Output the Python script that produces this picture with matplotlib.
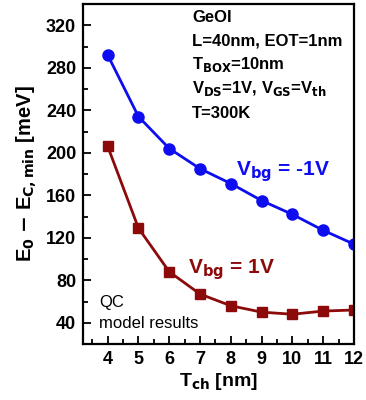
import matplotlib.pyplot as plt
from matplotlib.ticker import MultipleLocator

plt.rcParams['font.family'] = ['Liberation Sans', 'DejaVu Sans']
plt.rcParams['font.weight'] = 'bold'
plt.rcParams['mathtext.default'] = 'bf'

# data
t_ch = [4, 5, 6, 7, 8, 9, 10, 11, 12]
e_vbg_m1 = [292, 234, 204, 185, 171, 155, 142, 127, 114]
e_vbg_p1 = [206, 129, 88, 67, 56, 50, 48, 51, 52]

blue = '#0d0df0'
red = '#8c0a0a'

fig = plt.figure(figsize=(3.66, 4.0), dpi=100)
ax = fig.add_axes([0.227, 0.14, 0.74, 0.85])

ax.plot(t_ch, e_vbg_m1, '-o', color=blue, lw=2, ms=8)
ax.plot(t_ch, e_vbg_p1, '-s', color=red, lw=2, ms=6.5)

ax.set_xlim(3.2, 12)
ax.set_ylim(20, 340)
ax.xaxis.set_major_locator(MultipleLocator(1))
ax.xaxis.set_minor_locator(MultipleLocator(0.5))
ax.yaxis.set_major_locator(MultipleLocator(40))
ax.yaxis.set_minor_locator(MultipleLocator(20))
ax.tick_params(which='both', direction='in', width=1.3, labelsize=13)
ax.tick_params(which='major', length=6, pad=5)
ax.tick_params(which='minor', length=3.5)
for s in ax.spines.values():
    s.set_linewidth(1.6)

ax.set_xlabel(r'T$_{\mathbf{ch}}$ [nm]', fontsize=14, fontweight='bold', labelpad=2)
ax.set_ylabel(r'E$_{\mathbf{0}}$ $-$ E$_{\mathbf{C,min}}$ [meV]', fontsize=14.5, fontweight='bold', labelpad=5)

info = ['GeOI', 'L=40nm, EOT=1nm', r'T$_{\mathbf{BOX}}$=10nm',
        r'V$_{\mathbf{DS}}$=1V, V$_{\mathbf{GS}}$=V$_{\mathbf{th}}$', 'T=300K']
for i, line in enumerate(info):
    fig.text(192 / 366, 1 - (17 + i * 24) / 400, line, fontsize=12,
             fontweight='bold', va='center', ha='left')

fig.text(236 / 366, 1 - 172 / 400, r'V$_{\mathbf{bg}}$ = -1V', color=blue,
         fontsize=15, fontweight='bold', va='center', ha='left')
fig.text(188 / 366, 1 - 270 / 400, r'V$_{\mathbf{bg}}$ = 1V', color=red,
         fontsize=15, fontweight='bold', va='center', ha='left')

fig.text(99 / 366, 1 - 302 / 400, 'QC', fontsize=12, fontweight='normal',
         va='center', ha='left')
fig.text(99 / 366, 1 - 324 / 400, 'model results', fontsize=12,
         fontweight='normal', va='center', ha='left')

fig.savefig('out.png', dpi=100)
